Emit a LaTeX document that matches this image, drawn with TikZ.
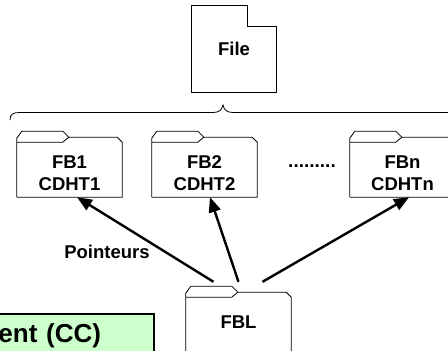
\documentclass[tikz,border=0pt]{standalone}
\usepackage{fontspec}
\setmainfont{Liberation Sans}
\usetikzlibrary{arrows.meta,calc}
\definecolor{ccgreen}{HTML}{CCFFCC}

% folder outline round a node: tab on the left, cut corner on the right
\newcommand{\folder}[1]{%
  \draw[folderline] (#1.south west) -- ++(0,-59) -- ++(5,-7) -- ++(41,0) -- ++(6,6) -- ++(-6,5) -- ++(-46,0);
  \draw[folderline] (#1.south west) -- (#1.south east) -- ++(0,-55) -- ++(-5,-5) -- ($(#1.south west)+(52,-60)$);
}

\begin{document}
\begin{tikzpicture}[x=1pt,y=-1pt,
    txt/.style={font=\fontsize{18.5}{22}\selectfont\bfseries},
    folderline/.style={line width=0.8pt},
    fold/.style={txt,align=center,minimum width=105pt,minimum height=48pt,inner sep=0pt},
    ptr/.style={line width=2.4pt,-{Triangle[length=15pt,width=12pt]}},
    ccbox/.style={draw,line width=2pt,fill=ccgreen,font=\fontsize{26}{30}\selectfont\bfseries,
      text width=150pt,align=right,inner xsep=53pt,inner ysep=10pt,text height=18pt,text depth=6pt}]
  \useasboundingbox (0,0) rectangle (448,351);
  \clip (0,0) rectangle (448,351);
  % the file
  \node[txt,minimum width=84pt,minimum height=86pt,inner sep=0pt] (file) at (234,49) {File};
  \draw[folderline] (file.south west) -- (file.north west) -- ++(56,0) -- ++(0,21)
    -- ($(file.north east)+(0,21)$) -- (file.south east) -- cycle;
  % brace over the blocks
  \draw[line width=0.8pt] (10,120) .. controls (10,114) and (13,112.5) .. (20,112.5) -- (213,112.5)
    .. controls (219,112.5) and (222,110) .. (223,105) .. controls (224,110) and (227,112.5) .. (233,112.5) -- (460,112.5);
  % file blocks
  \node[fold] (fb1) at (69.5,173) {FB1\\CDHT1};
  \node[fold] (fb2) at (204.5,173) {FB2\\CDHT2};
  \node[fold] (fbn) at (402.5,173) {FBn\\CDHTn};
  \node[txt] (dots) at (312,166) {\fontsize{19}{22}\selectfont .........};
  \node[fold,text depth=12pt] (fbl) at (238.5,328) {FBL};
  \foreach \f in {fb1,fb2,fbn,fbl} \folder{\f};
  % pointers
  \draw[ptr] ([shift={(-25,-22)}]fbl.north) -- ([xshift=7.5pt]fb1.south);
  \draw[ptr] ([shift={(0,-22)}]fbl.north) -- ([xshift=5.5pt]fb2.south);
  \draw[ptr] ([shift={(24,-22)}]fbl.north) -- ([xshift=6.5pt]fbn.south);
  \node[txt] (pointeurs) at (107,252) {Pointeurs};
  \node[ccbox,anchor=north east] (cc) at (155,313) {ent (CC)};
\end{tikzpicture}
\end{document}
